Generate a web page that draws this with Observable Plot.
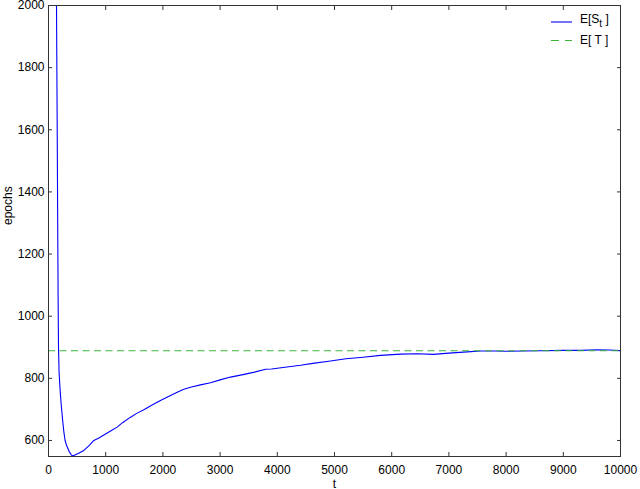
<!DOCTYPE html>
<html><head><meta charset="utf-8">
<script src="https://cdn.jsdelivr.net/npm/d3@7"></script>
<script src="https://cdn.jsdelivr.net/npm/@observablehq/plot@0.6"></script>
<style>
body{margin:0;background:#fff;font-family:"Liberation Sans",Arial,sans-serif;}
#wrap{position:relative;width:640px;height:489px;overflow:hidden;}
#legend{position:absolute;left:0;top:0;}
</style></head><body><div id="wrap"></div>
<script>
// Epoch t and E[S_t]
const tValues = [120, 140, 150, 160, 168, 175, 185, 200, 220, 250, 270, 290, 320, 360, 400, 430, 460, 520, 618, 700, 793, 880, 997, 1100, 1200, 1300, 1434, 1550, 1667, 1780, 1900, 2000, 2133, 2250, 2366, 2500, 2657, 2832, 3000, 3182, 3400, 3600, 3794, 3900, 4100, 4406, 4650, 4930, 5200, 5500, 5804, 6154, 6450, 6731, 7000, 7320, 7552, 7800, 8000, 8300, 8600, 9000, 9300, 9600, 9800, 10000];
const seValues = [2500, 2000, 1680, 1330, 1060, 900, 820, 770, 720, 660, 625, 600, 582, 565, 553, 550, 553, 558, 568, 582, 600, 608, 621, 632, 643, 658, 675, 688, 699, 711, 723, 733, 745, 755, 765, 772, 779, 786, 795, 804, 812, 820, 829, 830, 835, 842, 849, 856, 863, 868, 874, 878, 879, 877, 881, 885, 888, 888, 887, 888, 889, 890, 890, 892, 891, 889];
const expectedT = 889;
const xTicks = [0, 1000, 2000, 3000, 4000, 5000, 6000, 7000, 8000, 9000, 10000];
const yTicks = [600, 800, 1000, 1200, 1400, 1600, 1800, 2000];
const seriesNames = ["E[S", "E[ T ]"];

const series = tValues.map((t, i) => ({t, v: seValues[i]}));
const axisColor = "#333";
const plain = d => String(d);

const chart = Plot.plot({
  width: 640, height: 489,
  marginLeft: 48, marginRight: 20, marginTop: 5, marginBottom: 33,
  style: {fontFamily: "'Liberation Sans', Arial, sans-serif", fontSize: "12px", color: "#000", background: "#fff", overflow: "visible"},
  x: {domain: [0, 10000]},
  y: {domain: [548.4, 2000]},
  marks: [
    Plot.line(series, {x: "t", y: "v", stroke: "#0000ff", strokeWidth: 1.1, clip: true}),
    Plot.ruleY([expectedT], {stroke: "#3cb43c", strokeWidth: 1.1, strokeDasharray: "7,4.5"}),
    Plot.frame({stroke: axisColor, strokeWidth: 1}),
    Plot.axisX(xTicks, {anchor: "bottom", tickSize: -4, tickPadding: 12.5, tickFormat: plain, stroke: axisColor, fill: "#000", label: null, fontSize: 12}),
    Plot.axisX(xTicks, {anchor: "top", tickSize: -4, tickFormat: () => "", stroke: axisColor, label: null}),
    Plot.axisY(yTicks, {anchor: "left", tickSize: -4, tickPadding: 8, tickFormat: plain, stroke: axisColor, fill: "#000", label: null, fontSize: 12}),
    Plot.axisY(yTicks, {anchor: "right", tickSize: -4, tickFormat: () => "", stroke: axisColor, label: null}),
    Plot.text(["t"], {frameAnchor: "bottom", dy: 31, lineAnchor: "bottom", fontSize: 12, fill: "#000"}),
    Plot.text(["epochs"], {frameAnchor: "left", rotate: -90, dx: -40.5, dy: -6, lineAnchor: "middle", fontSize: 12, fill: "#000"})
  ]
});
const wrap = document.getElementById("wrap");
wrap.appendChild(chart);

// legend overlay
const lg = d3.select(wrap).append("svg").attr("id", "legend").attr("width", 640).attr("height", 60)
  .style("font-family", "'Liberation Sans', Arial, sans-serif").style("font-size", "12px");
lg.append("line").attr("x1", 551).attr("x2", 572).attr("y1", 22).attr("y2", 22).attr("stroke", "#0000ff").attr("stroke-width", 1.1);
const t1 = lg.append("text").attr("x", 580).attr("y", 23).attr("fill", "#000");
t1.append("tspan").text(seriesNames[0]);
t1.append("tspan").attr("dy", 4).attr("font-size", 10).text("t");
t1.append("tspan").attr("dy", -4).text(" ]");
lg.append("line").attr("x1", 551).attr("x2", 572).attr("y1", 40.5).attr("y2", 40.5).attr("stroke", "#3cb43c").attr("stroke-width", 1.1).attr("stroke-dasharray", "8,6");
lg.append("text").attr("x", 580).attr("y", 44).attr("fill", "#000").text(seriesNames[1]);
</script>
</body></html>
